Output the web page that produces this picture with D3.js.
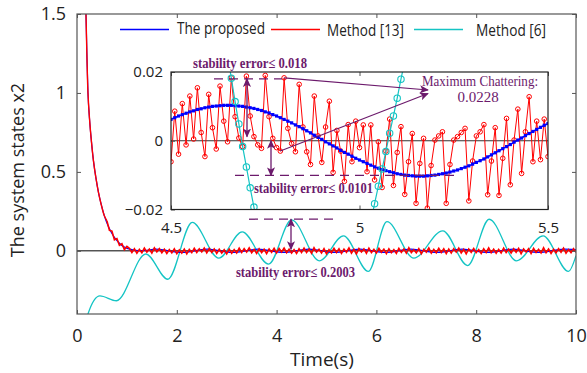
<!DOCTYPE html>
<html>
<head>
<meta charset="utf-8">
<script src="https://cdn.jsdelivr.net/npm/d3@7"></script>
<style>
  body { margin: 0; background: #fff; }
  svg { display: block; }
</style>
</head>
<body>
<svg id="chart" width="587" height="373"></svg>
<script>
// ---------- tick values ----------
const mainTicksX = [0, 2, 4, 6, 8, 10];
const mainTicksY = [0, 0.5, 1, 1.5];
const insetTicksX = [4.5, 5, 5.5];
const insetTicksY = [-0.02, 0, 0.02];

// ---------- series names / colours ----------
const seriesNames = ["The proposed", "Method [13]", "Method [6]"];
const seriesColors = ["#0000ff", "#ff0000", "#14c4c4"];

// ---------- transient shared by the proposed law and Method [13] ----------
const headT = [0.14, 0.18, 0.20, 0.22, 0.25, 0.29, 0.33, 0.38, 0.43, 0.48, 0.55];
const headV = [2.2, 1.5, 1.22, 1.0, 0.84, 0.69, 0.57, 0.46, 0.37, 0.30, 0.22];

// ---------- proposed law, slow residual oscillation ----------
const blueT = [0.62, 0.70, 0.78, 0.86, 0.94, 1.02, 1.30, 1.58, 2.10, 2.61, 3.12, 3.63, 4.14,
               4.65, 5.16, 5.67, 6.18, 6.69, 7.21, 7.72, 8.23, 8.74, 9.25, 9.76, 10.0];
const blueV = [0.16, 0.11, 0.072, 0.045, 0.026, 0.014, 0.0, 0.0103, -0.0103, 0.0103, -0.0103, 0.0103, -0.0103,
               0.0103, -0.0103, 0.0103, -0.0103, 0.0103, -0.0103, 0.0103, -0.0103, 0.0103, -0.0103, 0.0103, 0.0074];

// ---------- Method [13]: sampled every 0.05 s from t = 0.60 s ----------
const redStart = 0.60, redStep = 0.05;
const redV = [
  0.19, 0.13, 0.125, 0.07, 0.078, 0.035, 0.045, 0.008, 0.028,
  0.016,-0.011,0.013,-0.015,0.009,-0.012,0.017,-0.008,0.011,-0.014,
  0.019,-0.006,0.014,-0.012,0.010,-0.017,0.008,-0.013,0.012,-0.018,
  0.006,-0.014,0.011,-0.019,0.009,-0.011,0.016,-0.010,0.013,-0.007,
  0.018,-0.012,0.015,-0.009,0.012,-0.016,0.010,-0.014,0.007,-0.019,
  0.011,-0.015,0.008,-0.013,0.017,-0.010,0.014,-0.008,0.019,-0.012,
  0.009,-0.016,0.013,-0.011,0.010,-0.018,0.012,-0.009,0.016,-0.013,
  0.015,-0.007,0.018,-0.012,0.011,-0.014,0.008,-0.017,0.013,-0.010,
  0.017,-0.011,0.012,-0.015,0.019,-0.008,0.010,-0.013,0.014,-0.019,
  0.007,-0.012,0.016,-0.010,0.013,-0.016,0.011,-0.009,0.018,-0.014,
  0.010,-0.018,0.014,-0.007,0.012,-0.015,0.017,-0.011,0.009,-0.013,
  0.016,-0.009,0.011,-0.017,0.013,-0.012,0.008,-0.016,0.015,-0.010,
  0.012,-0.014,0.019,-0.011,0.007,-0.013,0.014,-0.018,0.010,-0.008,
  0.018,-0.015,0.009,-0.012,0.016,-0.010,0.013,-0.017,0.011,-0.014,
  0.014,-0.008,0.017,-0.013,0.010,-0.019,0.012,-0.009,0.015,-0.011,
  0.008,-0.016,0.013,-0.010,0.018,-0.012,0.011,-0.015,0.009,-0.013,
  0.017,-0.011,0.010,-0.014,0.013,-0.009,0.016,-0.018,0.012,-0.007,
  0.013,-0.017,0.015,-0.010,0.009,-0.013,0.019,-0.012,0.011,-0.016,
  0.010,-0.012,0.014,-0.009,0.017,-0.015,0.008,-0.011,0.013,-0.010
];

// ---------- Method [6]: turning points of the oscillating response ----------
const cyanT = [0.0, 0.22, 0.46, 0.79, 1.38, 1.82, 2.31, 2.84, 3.31, 3.84, 4.30, 4.86, 5.34,
               5.84, 6.21, 6.75, 7.33, 7.83, 8.26, 8.81, 9.34, 9.85, 10.0];
const cyanV = [-0.8, -0.40, -0.285, -0.316, -0.02, -0.18, 0.18, -0.046, 0.12, -0.084, 0.196, -0.063, 0.095,
               -0.13, 0.185, -0.046, 0.127, -0.093, 0.20, -0.063, 0.095, -0.13, -0.03];

// ---------- zoomed window 4.5 s - 5.5 s, sampled every 0.01 s ----------
const insetStart = 4.5, insetStep = 0.01;
const insetBlue = [
  0.0062,0.0067,0.0072,0.0076,0.0080,0.0084,0.0087,0.0091,0.0093,0.0096,
  0.0098,0.0100,0.0101,0.0102,0.0103,0.0103,0.0103,0.0102,0.0101,0.0100,
  0.0098,0.0096,0.0094,0.0091,0.0088,0.0084,0.0081,0.0076,0.0072,0.0067,
  0.0062,0.0057,0.0052,0.0046,0.0041,0.0035,0.0029,0.0023,0.0016,0.0010,
  0.0004,-0.0003,-0.0009,-0.0015,-0.0021,-0.0028,-0.0034,-0.0039,-0.0045,-0.0051,
  -0.0056,-0.0061,-0.0066,-0.0071,-0.0076,-0.0080,-0.0084,-0.0087,-0.0090,-0.0093,
  -0.0096,-0.0098,-0.0100,-0.0101,-0.0102,-0.0103,-0.0103,-0.0103,-0.0102,-0.0101,
  -0.0100,-0.0098,-0.0096,-0.0094,-0.0091,-0.0088,-0.0085,-0.0081,-0.0077,-0.0073,
  -0.0068,-0.0063,-0.0058,-0.0053,-0.0047,-0.0041,-0.0035,-0.0029,-0.0023,-0.0017,
  -0.0011,-0.0004,0.0002,0.0008,0.0015,0.0021,0.0027,0.0033,0.0039,0.0045,
  0.0050
];
const insetRed = [
  -0.0061,0.0086,-0.0039,0.0108,-0.0012,0.0130,0.0005,0.0154,0.0024,-0.0046,
  0.0135,0.0038,-0.0024,0.0159,0.0057,-0.0003,0.0183,0.0070,0.0008,-0.0017,
  0.0188,0.0072,0.0012,-0.0012,-0.0022,0.0190,0.0070,0.0007,-0.0020,-0.0030,
  0.0183,0.0036,-0.0008,-0.0032,0.0164,0.0040,-0.0032,-0.0069,0.0130,0.0014,
  -0.0063,0.0040,0.0115,-0.0092,0.0030,-0.0030,-0.0118,0.0047,-0.0061,0.0057,
  -0.0020,0.0046,-0.0090,0.0046,-0.0114,-0.0003,-0.0136,-0.0030,0.0063,-0.0130,
  -0.0034,0.0041,-0.0156,-0.0061,0.0021,-0.0182,-0.0066,0.0007,-0.0196,-0.0072,
  0.0002,0.0014,0.0026,-0.0182,-0.0069,0.0002,0.0012,0.0024,0.0036,-0.0175,
  -0.0059,0.0014,0.0026,0.0047,-0.0157,-0.0059,0.0038,-0.0159,-0.0051,0.0065,
  -0.0128,0.0002,0.0092,-0.0095,0.0026,0.0128,-0.0061,0.0057,-0.0055,0.0063,
  -0.0046
];
// Method [6] only crosses the window twice
const cyanInA_T = [4.65, 4.66, 4.67, 4.68, 4.69, 4.70, 4.71, 4.72, 4.73];
const cyanInA_V = [0.0250, 0.0182, 0.0114, 0.0049, -0.0017, -0.0076, -0.0137, -0.0193, -0.0255];
const cyanInB_T = [5.03, 5.04, 5.05, 5.06, 5.07, 5.08, 5.09, 5.10, 5.11, 5.12];
const cyanInB_V = [-0.0235, -0.0183, -0.0132, -0.0082, -0.0031, 0.0022, 0.0072, 0.0124, 0.0179, 0.0232];

// ---------- annotation values ----------
const errLabels = ["stability error\u2264 0.018", "stability error\u2264 0.0101", "stability error\u2264 0.2003"];
const errLevels = [0.018, -0.0101, 0.2003];
const chatterLabel = ["Maximum Chattering:", "0.0228"];

// ---------- layout ----------
const M = { left: 77, right: 576, top: 14, bottom: 314 };
const I = { left: 171, right: 548, top: 72, bottom: 209.5 };
const purple = "#6c1a6c";
const sans = "'Open Sans', 'Noto Sans', sans-serif";
const serif = "'Liberation Serif', 'Times New Roman', serif";

const svg = d3.select("#chart");

const x = d3.scaleLinear().domain([0, 10]).range([M.left, M.right]);
const y = d3.scaleLinear().domain([-0.4, 1.5]).range([M.bottom, M.top]);
const xi = d3.scaleLinear().domain([4.5, 5.5]).range([I.left, I.right]);
const yi = d3.scaleLinear().domain([-0.02, 0.02]).range([I.bottom, I.top]);

const defs = svg.append("defs");
defs.append("clipPath").attr("id", "clipMain").append("rect")
  .attr("x", M.left).attr("y", M.top).attr("width", M.right - M.left).attr("height", M.bottom - M.top);
defs.append("clipPath").attr("id", "clipInset").append("rect")
  .attr("x", I.left).attr("y", I.top).attr("width", I.right - I.left).attr("height", I.bottom - I.top);
defs.append("marker").attr("id", "head").attr("viewBox", "0 0 10 10")
  .attr("refX", 9).attr("refY", 5).attr("markerWidth", 9).attr("markerHeight", 9)
  .attr("markerUnits", "userSpaceOnUse").attr("orient", "auto-start-reverse")
  .append("path").attr("d", "M0,0.5 L10,5 L0,9.5 L2.5,5 Z").attr("fill", purple);

// ---------- main plot ----------
const main = svg.append("g").attr("clip-path", "url(#clipMain)");

main.append("line")
  .attr("x1", M.left).attr("x2", M.right).attr("y1", y(0)).attr("y2", y(0))
  .attr("stroke", "#000").attr("stroke-width", 1);

const smooth = d3.line().x(d => x(d[0])).y(d => y(d[1])).curve(d3.curveMonotoneX);
const straight = d3.line().x(d => x(d[0])).y(d => y(d[1]));

const cyanData = cyanT.map((t, i) => [t, cyanV[i]]);
main.append("path").attr("d", smooth(cyanData))
  .attr("fill", "none").attr("stroke", seriesColors[2]).attr("stroke-width", 1.3);

const blueData = headT.map((t, i) => [t, headV[i]]).concat(blueT.map((t, i) => [t, blueV[i]]));
main.append("path").attr("d", smooth(blueData))
  .attr("fill", "none").attr("stroke", seriesColors[0]).attr("stroke-width", 1.2);

const redData = headT.map((t, i) => [t, headV[i]])
  .concat(redV.map((v, i) => [redStart + i * redStep, v]));
main.append("path")
  .attr("d", d3.line().x(d => x(d[0])).y(d => y(d[1])).curve(d3.curveCatmullRom)(redData.slice(0, headT.length + 1)))
  .attr("fill", "none").attr("stroke", seriesColors[1]).attr("stroke-width", 1.4);
main.append("path").attr("d", straight(redData.slice(headT.length)))
  .attr("fill", "none").attr("stroke", seriesColors[1]).attr("stroke-width", 1.6);

// frame + inward ticks
const axisColor = "#555";
function styleAxis(g, size) {
  g.select(".domain").remove();
  g.selectAll(".tick line").attr("stroke", axisColor).attr("stroke-width", 1);
  g.selectAll(".tick text").attr("fill", "#222").attr("font-family", sans).attr("font-size", size);
}
svg.append("g").attr("transform", `translate(0,${M.bottom})`)
  .call(d3.axisBottom(x).tickValues(mainTicksX).tickSize(-4).tickPadding(15).tickFormat(d3.format("d")))
  .call(g => styleAxis(g, 18));
svg.append("g").attr("transform", `translate(0,${M.top})`)
  .call(d3.axisTop(x).tickValues(mainTicksX).tickSize(-4).tickFormat(""))
  .call(g => styleAxis(g, 18));
svg.append("g").attr("transform", `translate(${M.left},0)`)
  .call(d3.axisLeft(y).tickValues(mainTicksY).tickSize(-4).tickPadding(11).tickFormat(d3.format("")))
  .call(g => styleAxis(g, 18));
svg.append("g").attr("transform", `translate(${M.right},0)`)
  .call(d3.axisRight(y).tickValues(mainTicksY).tickSize(-4).tickFormat(""))
  .call(g => styleAxis(g, 18));
svg.append("rect").attr("x", M.left).attr("y", M.top)
  .attr("width", M.right - M.left).attr("height", M.bottom - M.top)
  .attr("fill", "none").attr("stroke", axisColor).attr("stroke-width", 1.2);

svg.append("text").attr("x", 322).attr("y", 366)
  .attr("text-anchor", "middle").attr("font-family", sans).attr("font-size", 19).attr("fill", "#222")
  .text("Time(s)");
svg.append("text").attr("transform", `translate(24,170) rotate(-90)`)
  .attr("text-anchor", "middle").attr("font-family", sans).attr("font-size", 18).attr("fill", "#222")
  .text("The system states x2");

// legend
const legendX = [120, 271, 414];
const legendTextX = [177, 327, 476];
const legendTextW = [88, 77, 70];
const legend = svg.append("g");
seriesNames.forEach((name, i) => {
  legend.append("line").attr("x1", legendX[i]).attr("x2", legendX[i] + 49)
    .attr("y1", 29.5).attr("y2", 29.5).attr("stroke", seriesColors[i]).attr("stroke-width", 1.4);
  legend.append("text").attr("x", legendTextX[i]).attr("y", i === 0 ? 34 : 36)
    .attr("font-family", sans).attr("font-size", 15.5).attr("fill", "#222")
    .attr("textLength", legendTextW[i]).attr("lengthAdjust", "spacingAndGlyphs").text(name);
});

// ---------- inset ----------
svg.append("rect").attr("x", I.left).attr("y", I.top)
  .attr("width", I.right - I.left).attr("height", I.bottom - I.top).attr("fill", "#fff");
const inset = svg.append("g").attr("clip-path", "url(#clipInset)");
inset.append("line").attr("x1", I.left).attr("x2", I.right).attr("y1", yi(0)).attr("y2", yi(0))
  .attr("stroke", "#333").attr("stroke-width", 1);

const lineI = d3.line().x(d => xi(d[0])).y(d => yi(d[1]));

const redIn = insetRed.map((v, i) => [insetStart + i * insetStep, v]);
const blueIn = insetBlue.map((v, i) => [insetStart + i * insetStep, v]);
const cyanA = cyanInA_T.map((t, i) => [t, cyanInA_V[i]]);
const cyanB = cyanInB_T.map((t, i) => [t, cyanInB_V[i]]);

inset.append("path").attr("d", lineI(redIn)).attr("fill", "none")
  .attr("stroke", seriesColors[1]).attr("stroke-width", 1);
inset.selectAll("circle.red").data(redIn).join("circle").attr("class", "red")
  .attr("cx", d => xi(d[0])).attr("cy", d => yi(d[1])).attr("r", 2.3)
  .attr("fill", "none").attr("stroke", seriesColors[1]).attr("stroke-width", 1);

inset.append("path").attr("d", lineI(blueIn)).attr("fill", "none")
  .attr("stroke", seriesColors[0]).attr("stroke-width", 1.5);
inset.selectAll("rect.blue").data(blueIn).join("rect").attr("class", "blue")
  .attr("x", d => xi(d[0]) - 1.6).attr("y", d => yi(d[1]) - 1.6)
  .attr("width", 3.2).attr("height", 3.2).attr("fill", seriesColors[0]);

[cyanA, cyanB].forEach(seg => {
  inset.append("path").attr("d", lineI(seg)).attr("fill", "none")
    .attr("stroke", seriesColors[2]).attr("stroke-width", 1.2);
  inset.selectAll(null).data(seg).join("circle")
    .attr("cx", d => xi(d[0])).attr("cy", d => yi(d[1])).attr("r", 3.2)
    .attr("fill", "none").attr("stroke", seriesColors[2]).attr("stroke-width", 1.1);
});

svg.append("g").attr("transform", `translate(0,${I.bottom})`)
  .call(d3.axisBottom(xi).tickValues(insetTicksX).tickSize(-4).tickPadding(13).tickFormat(d3.format("")))
  .call(g => styleAxis(g, 15));
svg.append("g").attr("transform", `translate(0,${I.top})`)
  .call(d3.axisTop(xi).tickValues(insetTicksX).tickSize(-4).tickFormat(""))
  .call(g => styleAxis(g, 15));
svg.append("g").attr("transform", `translate(${I.left},0)`)
  .call(d3.axisLeft(yi).tickValues(insetTicksY).tickSize(-4).tickPadding(8).tickFormat(d3.format("")))
  .call(g => styleAxis(g, 15));
svg.append("rect").attr("x", I.left).attr("y", I.top)
  .attr("width", I.right - I.left).attr("height", I.bottom - I.top)
  .attr("fill", "none").attr("stroke", "#222").attr("stroke-width", 1.2);

// ---------- annotations ----------
const ann = svg.append("g");
function dash(x1, x2, yy) {
  ann.append("line").attr("x1", x1).attr("x2", x2).attr("y1", yy).attr("y2", yy)
    .attr("stroke", purple).attr("stroke-width", 1.3).attr("stroke-dasharray", "9,6");
}
function dblArrow(xx, y1, y2) {
  ann.append("line").attr("x1", xx).attr("x2", xx).attr("y1", y1).attr("y2", y2)
    .attr("stroke", purple).attr("stroke-width", 1.3)
    .attr("marker-start", "url(#head)").attr("marker-end", "url(#head)");
}
function arrow(x1, y1, x2, y2) {
  ann.append("line").attr("x1", x1).attr("y1", y1).attr("x2", x2).attr("y2", y2)
    .attr("stroke", purple).attr("stroke-width", 1.2).attr("marker-end", "url(#head)");
}
function label(txt, xx, yy, w, bold, size) {
  ann.append("text").attr("x", xx).attr("y", yy)
    .attr("font-family", serif).attr("font-size", size).attr("font-weight", bold ? "bold" : "normal")
    .attr("fill", purple).attr("textLength", w).attr("lengthAdjust", "spacingAndGlyphs").text(txt);
}

// upper bound of Method [13]
dash(214, 282, yi(errLevels[0]));
dblArrow(247, yi(errLevels[0]), yi(0.0012));
label(errLabels[0], 193, 68, 114, true, 14);

// lower bound of the proposed law
dash(235, 458, yi(errLevels[1]));
dblArrow(271, yi(0), yi(errLevels[1]));
label(errLabels[1], 254, 193, 119, true, 14);

// Method [6] amplitude on the main axes
dash(249, 338, y(errLevels[2]));
dblArrow(291, y(errLevels[2]), y(0.01));
label(errLabels[2], 236, 277, 119, true, 14);

// largest jump between two consecutive samples of Method [13]
arrow(xi(redIn[30][0]), yi(redIn[30][1]), 428, 90);
arrow(xi(redIn[29][0]), yi(redIn[29][1]), 428, 93.5);
label(chatterLabel[0], 422, 86, 116, false, 15);
ann.append("text").attr("x", 478).attr("y", 102).attr("text-anchor", "middle")
  .attr("font-family", serif).attr("font-size", 15).attr("fill", purple).text(chatterLabel[1]);
</script>
</body>
</html>
